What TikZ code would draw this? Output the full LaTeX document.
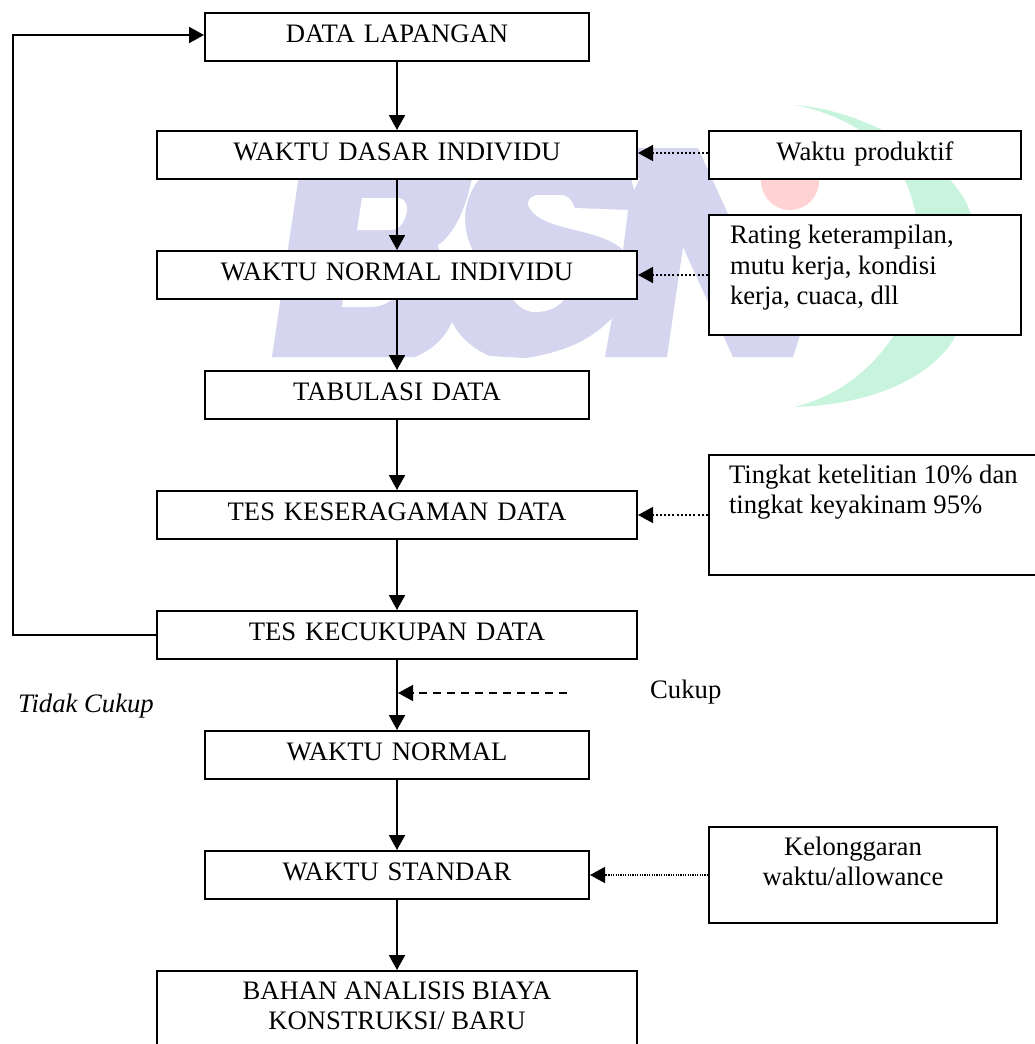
\documentclass[tikz,border=0pt]{standalone}
\usepackage{fontspec}
\setmainfont{Liberation Serif}
\usetikzlibrary{arrows.meta}
\definecolor{wmblue}{HTML}{D6D5EF}
\definecolor{wmgreen}{HTML}{C8F4DE}
\definecolor{wmpink}{HTML}{FFD3D3}
\newcommand{\fsz}{\fontsize{26.67pt}{30.6pt}\selectfont}
\newcommand{\tbox}[3]{\parbox[t]{#1pt}{\fsz\leftskip=#2pt\relax\rightskip=0pt plus 1fil\relax\parindent=0pt #3}}
\tikzset{
  box/.style={draw=black,fill=white,line width=2pt,inner sep=0pt,outer sep=1pt,align=center,
    font=\fsz,text height=29pt,text depth=19pt},
  wide/.style={box,text width=480pt},
  narrow/.style={box,text width=384pt},
  textbox/.style={draw=black,fill=white,line width=2pt,inner sep=0pt,outer sep=1pt,font=\fsz},
  flow/.style={line width=2pt,-{Triangle[length=15pt,width=16pt]}},
  dotarrow/.style={line width=1.5pt,dash pattern=on 2pt off 2.2pt,-{Triangle[length=15pt,width=16pt]}},
  finedot/.style={line width=1.5pt,dash pattern=on 1.2pt off 1.2pt,-{Triangle[length=15pt,width=16pt]}},
  dasharrow/.style={line width=1.5pt,dash pattern=on 8pt off 6pt,-{Triangle[length=15pt,width=16pt]}},
  label/.style={inner sep=0pt,font=\fsz,anchor=base west},
}
\begin{document}
\begin{tikzpicture}[x=1pt,y=-1pt]
\path[use as bounding box] (0,0) rectangle (1035,1044);
\clip (0,0) rectangle (1035,1044);
\fill[white] (0,0) rectangle (1035,1044);
% watermark
\fill[wmgreen] (795,105) .. controls (860,110) and (935,150) .. (965,200)
  .. controls (985,240) and (985,290) .. (950,345)
  .. controls (920,385) and (860,405) .. (795,407)
  .. controls (840,395) and (870,370) .. (893,337)
  .. controls (925,285) and (925,225) .. (905,180)
  .. controls (885,140) and (845,115) .. (795,105) -- cycle;
\fill[wmpink] (790,181) circle (29);
\fill[wmblue] (303,148) -- (698,148) -- (733,225) -- (803,320) -- (800,335) -- (793,357)
  -- (733,357) -- (683,247) -- (667,357) -- (605,357) -- (612,318)
  .. controls (593,338) and (567,352) .. (525,358) -- (490,356)
  .. controls (475,350) and (460,338) .. (452,322)
  .. controls (445,338) and (432,350) .. (415,357) -- (272,357) -- cycle;
\fill[white] (362,198) -- (398,198) .. controls (407,198) and (409,210) .. (405,218)
  .. controls (402,226) and (398,230) .. (390,230) -- (357,230) -- cycle;
\fill[white] (343,298) -- (395,298) -- (385,304) .. controls (380,306) and (376,307) .. (370,307) -- (342,307) -- cycle;
\fill[white] (528,205) .. controls (528,198) and (532,195) .. (540,195) -- (560,195)
  .. controls (570,195) and (572,202) .. (575,208) -- (628,210) -- (623,250)
  .. controls (615,242) and (600,236) .. (583,232)
  .. controls (560,226) and (535,222) .. (528,205) -- cycle;
\fill[white] (512,298) -- (565,298) .. controls (560,306) and (550,312) .. (535,312)
  .. controls (525,312) and (518,306) .. (512,298) -- cycle;
\fill[white] (472,178) -- (480,178) .. controls (470,190) and (465,205) .. (465,218)
  .. controls (465,230) and (468,242) .. (474,253) -- (440,253) -- (438,245)
  .. controls (450,238) and (465,215) .. (472,178) -- cycle;
\fill[white] (631,178) -- (640,178) -- (634,190) -- cycle;
% boxes
\node[narrow] (dl) at (397,37) {DATA LAPANGAN};
\node[wide] (wd) at (397,155) {WAKTU DASAR INDIVIDU};
\node[wide] (ni) at (397,275) {WAKTU NORMAL INDIVIDU};
\node[narrow] (tb) at (397,395) {TABULASI DATA};
\node[wide] (ks) at (397,515) {TES KESERAGAMAN DATA};
\node[wide] (kc) at (397,635) {TES KECUKUPAN DATA};
\node[narrow] (wn) at (397,755) {WAKTU NORMAL};
\node[narrow] (ws) at (397,875) {WAKTU STANDAR};
\node[textbox,text height=28pt,text depth=68pt] (bh) at (397,1019) {\parbox[t]{480pt}{\centering\fsz BAHAN ANALISIS BIAYA\\KONSTRUKSI/ BARU}};
\node[wide,text width=312pt] (wp) at (865,155) {Waktu produktif};
\node[textbox,text height=28.5pt,text depth=91.5pt] (rt) at (865,275) {\tbox{312}{21}{Rating keterampilan,\\mutu kerja, kondisi\\kerja, cuaca, dll}};
\node[textbox,text height=28pt,text depth=92pt] (tk) at (877,515) {\tbox{336}{20}{Tingkat ketelitian 10\% dan\\tingkat keyakinam 95\%}};
\node[textbox,text height=28pt,text depth=68pt] (kl) at (853,875) {\parbox[t]{288pt}{\centering\fsz Kelonggaran\\waktu/allowance}};
\node[label] (cu) at (650,698) {Cukup};
\node[label,font=\fsz\itshape] (tc) at (18,712) {Tidak Cukup};
% connectors
\coordinate (la) at (13,635);
\coordinate (lb) at (13,35);
\coordinate (jn) at (398,693);
\coordinate (jf) at (567,693);
\draw[flow] (dl) -- (wd);
\draw[flow] (wd) -- (ni);
\draw[flow] (ni) -- (tb);
\draw[flow] (tb) -- (ks);
\draw[flow] (ks) -- (kc);
\draw[flow] (kc) -- (wn);
\draw[flow] (wn) -- (ws);
\draw[flow] (ws) -- (bh);
\draw[flow] (kc.west) -- (la) -- (lb) -- ([yshift=2pt]dl.west);
\draw[dotarrow] ([yshift=2pt]wp.west) -- ([yshift=2pt]wd.east);
\draw[dotarrow] (rt.west) -- (ni.east);
\draw[dotarrow] (tk.west) -- (ks.east);
\draw[finedot] (kl.west) -- (ws.east);
\draw[dasharrow] (jf) -- (jn);
\end{tikzpicture}
\end{document}
